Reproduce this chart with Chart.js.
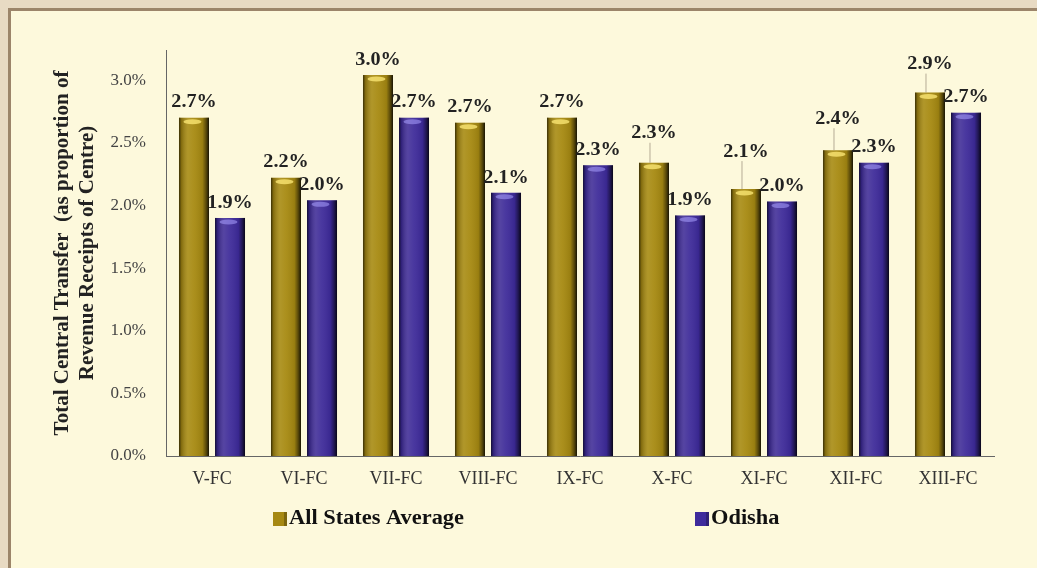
<!DOCTYPE html>
<html>
<head>
<meta charset="utf-8">
<script src="https://cdn.jsdelivr.net/npm/chart.js@4.4.1/dist/chart.umd.min.js"></script>
<style>
  html, body { margin: 0; padding: 0; }
  body { width: 1037px; height: 568px; background: #e8dac3; position: relative; overflow: hidden; }
  #panel { position: absolute; left: 8px; top: 8px; right: 0; bottom: 0; background: #fdf9dc;
           border-left: 3px solid #9c856a; border-top: 3px solid #9c856a; }
  #wrap { position: absolute; left: 0; top: 0; width: 1037px; height: 568px; }
</style>
</head>
<body>
<div id="panel"></div>
<div id="wrap"><canvas id="c" width="1037" height="568"></canvas></div>
<script>
const categories = ['V-FC', 'VI-FC', 'VII-FC', 'VIII-FC', 'IX-FC', 'X-FC', 'XI-FC', 'XII-FC', 'XIII-FC'];
const allStatesAverage = [2.70, 2.22, 3.04, 2.66, 2.70, 2.34, 2.13, 2.44, 2.90];
const odisha = [1.90, 2.04, 2.70, 2.10, 2.32, 1.92, 2.03, 2.34, 2.74];
const yTicks = [0, 0.5, 1.0, 1.5, 2.0, 2.5, 3.0];
const seriesNames = ['All States Average', 'Odisha'];
const yTitle = ['Total Central Transfer  (as proportion of', 'Revenue Receipts of Centre)'];

const GOLD = '#a68912';
const PURPLE = '#3e2b9c';
const SERIF = '"Liberation Serif", "Times New Roman", serif';

// extra lift (px) for labels that were moved up with leader lines in the original
const labelLift = { '0-5': 14, '0-6': 22, '0-7': 16, '0-8': 13 };

const barShade = {
  id: 'barShade',
  afterDatasetsDraw(chart) {
    const ctx = chart.ctx;
    chart.data.datasets.forEach((ds, di) => {
      const meta = chart.getDatasetMeta(di);
      meta.data.forEach(bar => {
        const w = bar.width, l = bar.x - w / 2, top = bar.y, h = bar.base - bar.y;
        const g = ctx.createLinearGradient(l, 0, l + w, 0);
        g.addColorStop(0.00, 'rgba(0,0,0,0.65)');
        g.addColorStop(0.08, 'rgba(0,0,0,0.22)');
        g.addColorStop(0.30, 'rgba(255,250,210,0.12)');
        g.addColorStop(0.50, 'rgba(255,250,210,0.06)');
        g.addColorStop(0.78, 'rgba(0,0,0,0.08)');
        g.addColorStop(0.90, 'rgba(0,0,0,0.45)');
        g.addColorStop(1.00, 'rgba(0,0,0,0.85)');
        ctx.save();
        ctx.fillStyle = g;
        ctx.fillRect(l, top, w, h);
        ctx.beginPath();
        ctx.ellipse(bar.x - w * 0.05, top + 4, w * 0.3, 2.5, 0, 0, Math.PI * 2);
        ctx.fillStyle = di === 0 ? 'rgba(255,235,120,0.75)' : 'rgba(170,160,255,0.55)';
        ctx.fill();
        ctx.restore();
      });
    });
  }
};

const valueLabels = {
  id: 'valueLabels',
  afterDatasetsDraw(chart) {
    const ctx = chart.ctx;
    ctx.save();
    ctx.font = 'bold 18px ' + SERIF;
    ctx.fillStyle = '#222';
    ctx.textAlign = 'center';
    ctx.textBaseline = 'middle';
    chart.data.datasets.forEach((ds, di) => {
      const meta = chart.getDatasetMeta(di);
      meta.data.forEach((bar, i) => {
        const lift = labelLift[di + '-' + i] || 0;
        const ty = bar.y - 15 - lift;
        if (lift) {
          ctx.save();
          ctx.strokeStyle = 'rgba(150,140,120,0.7)';
          ctx.lineWidth = 1;
          ctx.beginPath();
          ctx.moveTo(bar.x - 4, ty + 9);
          ctx.lineTo(bar.x - 4, bar.y);
          ctx.stroke();
          ctx.restore();
        }
        ctx.save();
        ctx.translate(bar.x, ty);
        ctx.scale(1.12, 1);
        ctx.fillText(ds.data[i].toFixed(1) + '%', 0, 0);
        ctx.restore();
      });
    });
    ctx.restore();
  }
};

const customLegend = {
  id: 'customLegend',
  afterDraw(chart) {
    const ctx = chart.ctx;
    const items = [
      { x: 273, color: GOLD, text: seriesNames[0] },
      { x: 695, color: PURPLE, text: seriesNames[1] }
    ];
    ctx.save();
    ctx.font = 'bold 20px ' + SERIF;
    ctx.textBaseline = 'middle';
    ctx.textAlign = 'left';
    items.forEach(it => {
      ctx.fillStyle = it.color;
      ctx.fillRect(it.x, 512, 14, 14);
      ctx.fillStyle = 'rgba(0,0,0,0.25)';
      ctx.fillRect(it.x + 11, 512, 3, 14);
      ctx.fillStyle = '#111';
      ctx.save();
      ctx.translate(it.x + 16, 519);
      ctx.scale(1.12, 1);
      ctx.fillText(it.text, 0, 0);
      ctx.restore();
    });
    ctx.restore();
  }
};

new Chart(document.getElementById('c'), {
  type: 'bar',
  data: {
    labels: categories,
    datasets: [
      { label: seriesNames[0], data: allStatesAverage, backgroundColor: GOLD, borderWidth: 0 },
      { label: seriesNames[1], data: odisha, backgroundColor: PURPLE, borderWidth: 0 }
    ]
  },
  options: {
    responsive: false,
    animation: false,
    events: [],
    categoryPercentage: 0.783,
    barPercentage: 0.833,
    layout: { padding: { left: 0, right: 43, top: 50, bottom: 0 } },
    plugins: { legend: { display: false }, tooltip: { enabled: false } },
    scales: {
      x: {
        grid: { display: false, drawTicks: false },
        border: { display: true, color: '#666', width: 1 },
        ticks: { color: '#333', padding: 12, font: { family: SERIF, size: 18 } },
        afterFit(s) { s.height = 112; }
      },
      y: {
        min: 0,
        max: 3.24,
        grid: { display: false, drawTicks: false },
        border: { display: true, color: '#666', width: 1 },
        afterBuildTicks(s) { s.ticks = yTicks.map(v => ({ value: v })); },
        ticks: {
          color: '#444', padding: 20, font: { family: SERIF, size: 17 },
          callback: v => v.toFixed(1) + '%'
        },
        title: {
          display: true, text: yTitle, color: '#222',
          font: { family: SERIF, size: 21, weight: 'bold', lineHeight: 1.2 },
          padding: { top: 50, bottom: 0 }
        },
        afterFit(s) { s.width = 166; }
      }
    }
  },
  plugins: [barShade, valueLabels, customLegend]
});
</script>
</body>
</html>
